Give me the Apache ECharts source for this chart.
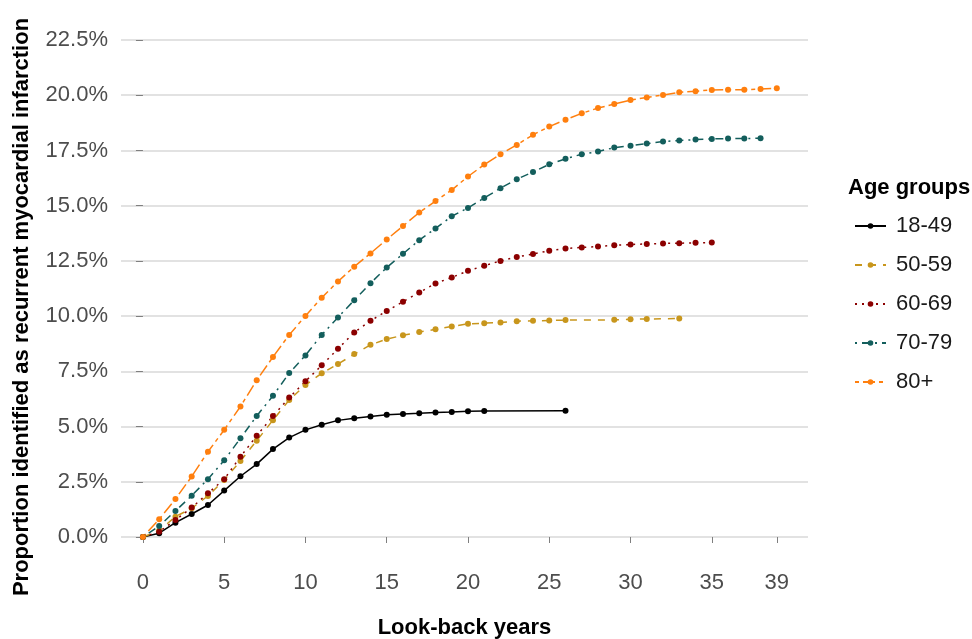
<!DOCTYPE html>
<html>
<head>
<meta charset="utf-8">
<script src="https://cdn.jsdelivr.net/npm/echarts@6/dist/echarts.min.js"></script>
<style>html,body{margin:0;padding:0;background:#fff;}#c{width:972px;height:639px;}</style>
</head>
<body>
<div id="c"></div>
<script>
var xTicks = [0, 5, 10, 15, 20, 25, 30, 35, 39];
var yTicks = [0, 2.5, 5, 7.5, 10, 12.5, 15, 17.5, 20, 22.5];
var groupNames = ['18-49', '50-59', '60-69', '70-79', '80+'];

var years1849 = [0,1,2,3,4,5,6,7,8,9,10,11,12,13,14,15,16,17,18,19,20,21,26];
var vals1849 = [0,0.17,0.65,1.04,1.45,2.1,2.75,3.3,3.98,4.5,4.85,5.08,5.28,5.38,5.46,5.53,5.57,5.6,5.64,5.66,5.69,5.7,5.72];

var years5059 = [0,1,2,3,4,5,6,7,8,9,10,11,12,13,14,15,16,17,18,19,20,21,22,23,24,25,26,29,30,31,33];
var vals5059 = [0,0.29,0.92,1.3,1.86,2.58,3.44,4.36,5.29,6.2,6.88,7.41,7.83,8.28,8.7,8.96,9.13,9.28,9.4,9.53,9.65,9.68,9.71,9.77,9.79,9.8,9.82,9.83,9.86,9.87,9.89];

var years6069 = [0,1,2,3,4,5,6,7,8,9,10,11,12,13,14,15,16,17,18,19,20,21,22,23,24,25,26,27,28,29,30,31,32,33,34,35];
var vals6069 = [0,0.24,0.77,1.33,1.98,2.62,3.63,4.58,5.48,6.31,7.05,7.77,8.52,9.26,9.79,10.23,10.65,11.07,11.48,11.75,12.05,12.28,12.5,12.68,12.81,12.96,13.06,13.11,13.15,13.21,13.24,13.27,13.29,13.3,13.32,13.33];

var years7079 = [0,1,2,3,4,5,6,7,8,9,10,11,12,13,14,15,16,17,18,19,20,21,22,23,24,25,26,27,28,29,30,31,32,33,34,35,36,37,38];
var vals7079 = [0,0.5,1.18,1.87,2.62,3.47,4.47,5.48,6.39,7.42,8.22,9.15,9.94,10.72,11.49,12.2,12.82,13.44,13.97,14.52,14.9,15.35,15.79,16.2,16.52,16.87,17.12,17.33,17.45,17.63,17.71,17.81,17.9,17.95,17.99,18.02,18.04,18.04,18.05];

var years80 = [0,1,2,3,4,5,6,7,8,9,10,11,12,13,14,15,16,17,18,19,20,21,22,23,24,25,26,27,28,29,30,31,32,33,34,35,36,37,38,39];
var vals80 = [0,0.8,1.72,2.74,3.86,4.85,5.91,7.1,8.15,9.15,10.01,10.83,11.57,12.24,12.84,13.47,14.08,14.69,15.21,15.71,16.32,16.86,17.33,17.75,18.21,18.58,18.89,19.18,19.42,19.6,19.78,19.9,20.01,20.13,20.18,20.24,20.25,20.25,20.28,20.31];

var allYears = [years1849, years5059, years6069, years7079, years80];
var allVals = [vals1849, vals5059, vals6069, vals7079, vals80];
var colors = ['#000000', '#C8961C', '#8B0000', '#135E5C', '#FF7F0E'];
var dashes = ['solid', [7, 7], [2, 5], [2, 5, 8, 5], [4, 4, 12, 4]];

function pairs(xs, ys) {
  var out = [];
  for (var i = 0; i < xs.length; i++) out.push([xs[i], ys[i]]);
  return out;
}

var FONT = '"Liberation Sans", Arial, Helvetica, sans-serif';

var series = groupNames.map(function (name, i) {
  return {
    name: name,
    type: 'line',
    data: pairs(allYears[i], allVals[i]),
    symbol: 'circle',
    symbolSize: 6,
    clip: false,
    itemStyle: { color: colors[i] },
    lineStyle: { color: colors[i], width: 1.5, type: dashes[i] },
    emphasis: { disabled: true },
    animation: false
  };
});

var chart = echarts.init(document.getElementById('c'), null, { renderer: 'canvas' });
chart.setOption({
  backgroundColor: '#ffffff',
  animation: false,
  textStyle: { fontFamily: FONT },
  grid: { left: 121, right: 164, top: 40, bottom: 102, containLabel: false, outerBoundsMode: 'none' },
  xAxis: {
    type: 'value',
    min: -1.35,
    max: 40.92,
    offset: 25,
    name: 'Look-back years',
    nameLocation: 'middle',
    nameGap: 55,
    nameTextStyle: { fontFamily: FONT, fontSize: 22, fontWeight: 'bold', color: '#000' },
    axisLine: { show: false },
    axisTick: { show: true, length: 6, customValues: xTicks, lineStyle: { color: '#7F7F7F', width: 1 } },
    axisLabel: { customValues: xTicks, fontSize: 22, color: '#4D4D4D', fontFamily: FONT, margin: 10 },
    splitLine: { show: false }
  },
  yAxis: {
    type: 'value',
    min: 0,
    max: 22.5,
    interval: 2.5,
    axisLine: { show: false },
    axisTick: { show: true, length: 7, lineStyle: { color: '#7F7F7F', width: 1 } },
    axisLabel: {
      fontSize: 22, color: '#4D4D4D', fontFamily: FONT, margin: 13,
      formatter: function (v) { return v.toFixed(1) + '%'; }
    },
    splitLine: { show: true, lineStyle: { color: '#D9D9D9', width: 1.6 } }
  },
  legend: {
    orient: 'vertical',
    left: 849,
    top: 210,
    itemWidth: 31,
    itemHeight: 7,
    itemGap: 17,
    data: groupNames,
    textStyle: { fontSize: 22, color: '#1A1A1A', fontFamily: FONT, padding: [0, 0, 0, 5] },
    selectedMode: false
  },
  graphic: [{
    type: 'text',
    left: 848,
    top: 177,
    style: { text: 'Age groups', font: 'bold 22px ' + FONT, fill: '#000' }
  }, {
    type: 'text',
    x: 22,
    y: 307,
    rotation: Math.PI / 2,
    style: {
      text: 'Proportion identified as recurrent myocardial infarction',
      font: 'bold 22px ' + FONT, fill: '#000',
      align: 'center', verticalAlign: 'middle'
    }
  }],
  series: series
});
</script>
</body>
</html>
